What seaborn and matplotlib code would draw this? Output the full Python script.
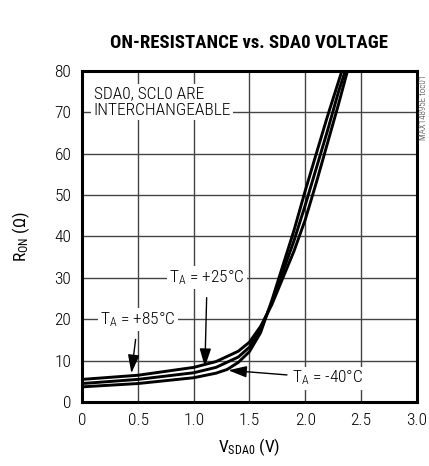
import matplotlib
matplotlib.use("Agg")
import matplotlib.pyplot as plt
import seaborn as sns
import numpy as np
import pandas as pd

# Données
v_85 = [0.0, 0.5, 1.0, 1.2, 1.4, 1.5, 1.6, 1.7, 1.8, 1.9, 2.0, 2.1, 2.2, 2.3, 2.38]
r_85 = [5.5, 6.5, 8.4, 9.8, 12.3, 14.5, 18.3, 23.5, 30.0, 36.5, 44.0, 53.0, 62.5, 72.0, 80.0]

v_25 = [0.0, 0.5, 1.0, 1.2, 1.4, 1.5, 1.6, 1.7, 1.8, 1.9, 2.0, 2.1, 2.2, 2.3, 2.36]
r_25 = [4.5, 5.5, 7.1, 8.4, 10.9, 13.3, 17.6, 24.0, 31.5, 39.0, 47.5, 56.5, 65.5, 75.0, 80.0]

v_m40 = [0.0, 0.5, 1.0, 1.2, 1.3, 1.4, 1.5, 1.6, 1.7, 1.8, 1.9, 2.0, 2.1, 2.2, 2.33]
r_m40 = [3.7, 4.5, 5.9, 7.0, 7.9, 9.6, 12.2, 16.8, 24.5, 33.0, 41.5, 51.0, 60.0, 69.0, 80.0]

x_ticks = [0, 0.5, 1.0, 1.5, 2.0, 2.5, 3.0]
x_tick_labels = ["0", "0.5", "1.0", "1.5", "2.0", "2.5", "3.0"]
y_ticks = [0, 10, 20, 30, 40, 50, 60, 70, 80]

df = pd.concat([
    pd.DataFrame({"V": v_85, "R": r_85, "T": "+85"}),
    pd.DataFrame({"V": v_25, "R": r_25, "T": "+25"}),
    pd.DataFrame({"V": v_m40, "R": r_m40, "T": "-40"}),
])

sns.set_style("white")
plt.rcParams["font.family"] = ["Roboto Condensed", "DejaVu Sans"]
plt.rcParams["font.weight"] = "light"
plt.rcParams["text.color"] = "black"
plt.rcParams["axes.labelcolor"] = "black"
plt.rcParams["mathtext.fontset"] = "custom"
plt.rcParams["mathtext.rm"] = "Roboto Condensed:light"
plt.rcParams["mathtext.it"] = "Roboto Condensed:light"
plt.rcParams["mathtext.default"] = "regular"

fig = plt.figure(figsize=(4.29, 4.66), dpi=100)
ax = fig.add_axes([0.192, 0.137, 0.779, 0.711])

# grille manuelle (sous le texte)
for xt in x_ticks:
    ax.axvline(xt, color="#444444", linewidth=1.0, zorder=0.5)
for yt in y_ticks:
    ax.axhline(yt, color="#444444", linewidth=1.0, zorder=0.5)

sns.lineplot(data=df, x="V", y="R", hue="T", units="T", estimator=None,
             palette=["black", "black", "black"], linewidth=2.1,
             legend=False, sort=False, ax=ax, zorder=3)

ax.set_xlim(0, 3.0)
ax.set_ylim(0, 80)
ax.set_xticks(x_ticks)
ax.set_xticklabels(x_tick_labels)
ax.set_yticks(y_ticks)
ax.tick_params(direction="in", length=4, width=1, labelsize=12.5, pad=8,
               colors="black")
for s in ax.spines.values():
    s.set_linewidth(2.2)
    s.set_color("black")
    s.set_zorder(4)

ax.set_xlabel("V$_{SDA0}$ (V)", fontsize=12.5, labelpad=6)
ax.set_ylabel("R$_{ON}$ (Ω)", fontsize=12.5, labelpad=16)
fig.suptitle("ON-RESISTANCE vs. SDA0 VOLTAGE", x=0.58, y=0.928,
             fontsize=13.5, fontweight="heavy")

box = dict(facecolor="white", edgecolor="none", pad=1.5)
arrow = dict(arrowstyle="-|>,head_length=0.8,head_width=0.25", color="black",
             lw=1.0, mutation_scale=14, shrinkA=6, shrinkB=0)

ax.text(0.1, 72.5, "SDA0, SCL0 ARE\nINTERCHANGEABLE", fontsize=12.5,
        ha="left", va="center", linespacing=1.15, bbox=box, zorder=2)

ax.annotate("T$_A$ = +85°C", xy=(0.44, 7.0), xytext=(0.5, 19.9),
            fontsize=12.5, ha="center", va="center", bbox=box, zorder=2,
            arrowprops=arrow)
ax.annotate("T$_A$ = +25°C", xy=(1.10, 8.5), xytext=(1.12, 30),
            fontsize=12.5, ha="center", va="center", bbox=box, zorder=2,
            arrowprops=arrow)
ax.annotate("T$_A$ = -40°C", xy=(1.31, 7.7), xytext=(2.2, 5.8),
            fontsize=12.5, ha="center", va="center", bbox=box, zorder=2,
            arrowprops=dict(arrow, shrinkA=2))

fig.text(0.988, 0.77, "MAX14895E toc01", rotation=90, fontsize=6.5,
         ha="center", va="center", color="#333333")

fig.savefig("out.png", dpi=100)
